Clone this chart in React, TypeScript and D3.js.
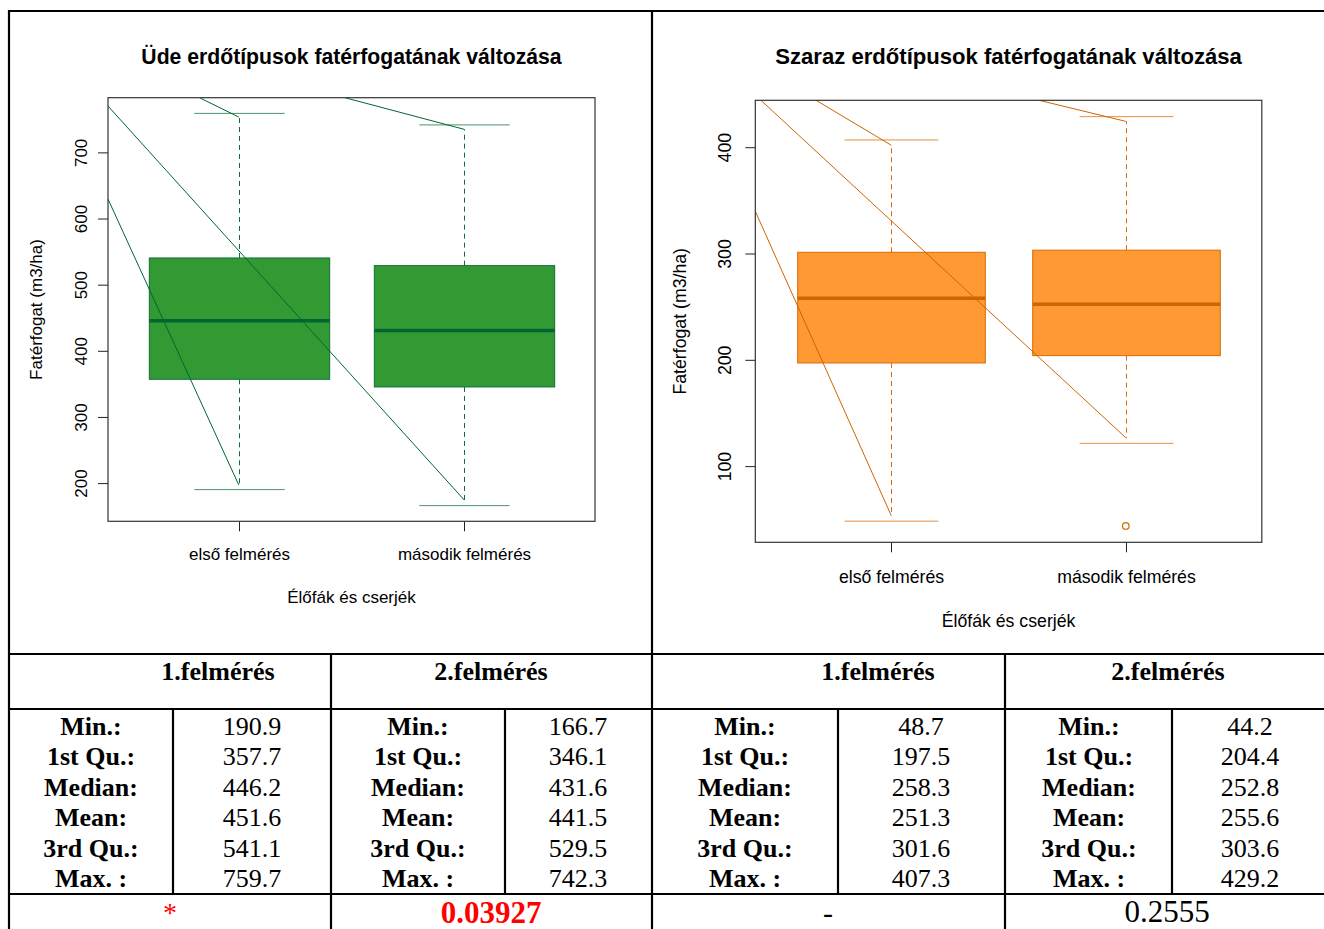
import React from 'react';
import * as d3 from 'd3';

// ---------- data ----------
const categories = ['első felmérés', 'második felmérés'];

// Üde (left)
const udeQ1 = [357.7, 346.1];
const udeMedian = [446.2, 431.6];
const udeQ3 = [541.1, 529.5];
const udeWhiskerLo = [190.9, 166.7];
const udeWhiskerHi = [759.7, 742.3];
const udeDashLo = [197.9, 175.2];
const udeDashHi = [754.2, 735.6];
const udeOutliers: number[][] = [];
const udeTicks = [200, 300, 400, 500, 600, 700];
const udeStray = [
  [0.42, 770.8, 2, 175.2],
  [0.42, 630.2, 1, 197.9],
  [0.826, 783.4, 1, 754.2],
  [1.471, 783.4, 2, 735.6],
];

// Szaraz (right)
const szQ1 = [197.5, 204.4];
const szMedian = [258.3, 252.8];
const szQ3 = [301.6, 303.6];
const szWhiskerLo = [48.7, 121.9];
const szWhiskerHi = [407.3, 429.2];
const szDashLo = [53.8, 127.2];
const szDashHi = [402.3, 424.8];
const szOutliers = [[2, 44.2]];
const szTicks = [100, 200, 300, 400];
const szStray = [
  [0.444, 444.6, 2, 127.2],
  [0.42, 340.2, 1, 53.8],
  [0.679, 444.6, 1, 402.3],
  [1.63, 444.6, 2, 424.8],
];

// table
const rowLabels = ['Min.:', '1st Qu.:', 'Median:', 'Mean:', '3rd Qu.:', 'Max. :'];
const udeStats1 = ['190.9', '357.7', '446.2', '451.6', '541.1', '759.7'];
const udeStats2 = ['166.7', '346.1', '431.6', '441.5', '529.5', '742.3'];
const szStats1 = ['48.7', '197.5', '258.3', '251.3', '301.6', '407.3'];
const szStats2 = ['44.2', '204.4', '252.8', '255.6', '303.6', '429.2'];
const headers = ['1.felmérés', '2.felmérés'];
const pValues = ['*', '0.03927', '-', '0.2555'];

const SANS = '"Liberation Sans", Arial, sans-serif';
const SERIF = '"Liberation Serif", "Times New Roman", serif';

type PanelProps = {
  id: string;
  title: string;
  q1: number[]; med: number[]; q3: number[];
  wlo: number[]; whi: number[]; dlo: number[]; dhi: number[];
  outliers: number[][];
  ticks: number[];
  stray: number[][];
  left: number; right: number; top: number; bottom: number;
  fs: number; tfs: number;
  titleY: number; tickLabelX: number; yTitleX: number; xLabY: number; xTitleY: number;
  fill: string; line: string; medCol: string;
};

function Panel(p: PanelProps) {
  const all = [...p.wlo, ...p.whi, ...p.outliers.map(o => o[1])];
  const mn = d3.min(all) as number;
  const mx = d3.max(all) as number;
  const r = mx - mn;
  const y = d3.scaleLinear().domain([mn - 0.04 * r, mx + 0.04 * r]).range([p.bottom, p.top]);
  const x = d3.scaleLinear().domain([0.42, 2.58]).range([p.left, p.right]);
  const bw = x(1.4) - x(1);
  const cw = x(1.2) - x(1);
  const cx = (p.left + p.right) / 2;
  const cy = (p.top + p.bottom) / 2;
  return (
    <g>
      <defs>
        <clipPath id={p.id}>
          <rect x={p.left} y={p.top} width={p.right - p.left} height={p.bottom - p.top} />
        </clipPath>
      </defs>
      <text x={cx} y={p.titleY} textAnchor="middle" fontFamily={SANS} fontWeight="bold" fontSize={p.tfs}>{p.title}</text>
      {categories.map((c, i) => {
        const xc = Math.round(x(i + 1)) + 0.5;
        return (
          <g key={c}>
            <line x1={xc} x2={xc} y1={y(p.q3[i])} y2={y(p.dhi[i])} stroke={p.line} strokeDasharray="5,4" />
            <line x1={xc} x2={xc} y1={y(p.q1[i])} y2={y(p.dlo[i])} stroke={p.line} strokeDasharray="5,4" />
            <line x1={xc - cw} x2={xc + cw} y1={y(p.whi[i])} y2={y(p.whi[i])} stroke={p.line} strokeOpacity={0.75} />
            <line x1={xc - cw} x2={xc + cw} y1={y(p.wlo[i])} y2={y(p.wlo[i])} stroke={p.line} strokeOpacity={0.75} />
            <rect x={xc - bw} width={2 * bw} y={y(p.q3[i])} height={y(p.q1[i]) - y(p.q3[i])} fill={p.fill} stroke={p.line} strokeWidth={1} />
            <line x1={xc - bw} x2={xc + bw} y1={y(p.med[i])} y2={y(p.med[i])} stroke={p.medCol} strokeWidth={3.5} />
            <line x1={xc} x2={xc} y1={p.bottom} y2={p.bottom + 10} stroke="#222" />
            <text x={xc} y={p.xLabY} textAnchor="middle" fontFamily={SANS} fontSize={p.fs}>{c}</text>
          </g>
        );
      })}
      {p.outliers.map((o, i) => (
        <circle key={i} cx={x(o[0])} cy={y(o[1])} r={3.3} fill="none" stroke={p.line} strokeWidth={1.2} />
      ))}
      <g clipPath={`url(#${p.id})`}>
        {p.stray.map((s, i) => (
          <line key={i} x1={x(s[0])} y1={y(s[1])} x2={x(s[2])} y2={y(s[3])} stroke={p.medCol} strokeWidth={1} />
        ))}
      </g>
      <rect x={p.left} y={p.top} width={p.right - p.left} height={p.bottom - p.top} fill="none" stroke="#333" strokeWidth={1.2} />
      {p.ticks.map(t => (
        <g key={t}>
          <line x1={p.left - 10} x2={p.left} y1={y(t)} y2={y(t)} stroke="#222" />
          <text transform={`translate(${p.tickLabelX},${y(t)}) rotate(-90)`} textAnchor="middle" fontFamily={SANS} fontSize={p.fs}>{t}</text>
        </g>
      ))}
      <text transform={`translate(${p.yTitleX},${cy}) rotate(-90)`} textAnchor="middle" fontFamily={SANS} fontSize={p.fs}>Fatérfogat (m3/ha)</text>
      <text x={cx} y={p.xTitleY} textAnchor="middle" fontFamily={SANS} fontSize={p.fs}>Élőfák és cserjék</text>
    </g>
  );
}

function StatsBlock({ labelX, valueX, values }: { labelX: number; valueX: number; values: string[] }) {
  return (
    <g fontFamily={SERIF} fontSize={26}>
      {rowLabels.map((l, i) => (
        <g key={l}>
          <text x={labelX} y={735 + i * 30.4} textAnchor="middle" fontWeight="bold">{l}</text>
          <text x={valueX} y={735 + i * 30.4} textAnchor="middle">{values[i]}</text>
        </g>
      ))}
    </g>
  );
}

export default function App() {
  const W = 1324, H = 929;
  const hLines = [
    [8, 11, W], [8, 654, W], [8, 709, W], [8, 894, W],
  ];
  const vLines = [
    [9, 10, H], [652, 10, H], [331, 654, H], [1005, 654, H],
    [173, 709, 894], [505, 709, 894], [838, 709, 894], [1172, 709, 894],
  ];
  return (
    <svg width={W} height={H} style={{ position: 'absolute', left: 0, top: 0, background: '#fff' }}>
      <rect x={0} y={0} width={W} height={H} fill="#fff" />
      <Panel
        id="clipL" title="Üde erdőtípusok fatérfogatának változása"
        q1={udeQ1} med={udeMedian} q3={udeQ3} wlo={udeWhiskerLo} whi={udeWhiskerHi}
        dlo={udeDashLo} dhi={udeDashHi} outliers={udeOutliers} ticks={udeTicks} stray={udeStray}
        left={108} right={595} top={97.7} bottom={521.3} fs={17} tfs={21.2}
        titleY={64} tickLabelX={86.5} yTitleX={42} xLabY={560} xTitleY={603}
        fill="#339933" line="#0f6e3a" medCol="#006633"
      />
      <Panel
        id="clipR" title="Szaraz erdőtípusok fatérfogatának változása"
        q1={szQ1} med={szMedian} q3={szQ3} wlo={szWhiskerLo} whi={szWhiskerHi}
        dlo={szDashLo} dhi={szDashHi} outliers={szOutliers} ticks={szTicks} stray={szStray}
        left={755.3} right={1261.8} top={100.3} bottom={542.3} fs={17.7} tfs={22.1}
        titleY={64} tickLabelX={731} yTitleX={686} xLabY={583} xTitleY={627}
        fill="#FF9933" line="#D96A00" medCol="#CC6600"
      />
      {/* table headers */}
      <g fontFamily={SERIF} fontSize={26} fontWeight="bold">
        <text x={218} y={680} textAnchor="middle">{headers[0]}</text>
        <text x={491} y={680} textAnchor="middle">{headers[1]}</text>
        <text x={878} y={680} textAnchor="middle">{headers[0]}</text>
        <text x={1168} y={680} textAnchor="middle">{headers[1]}</text>
      </g>
      <StatsBlock labelX={91} valueX={252} values={udeStats1} />
      <StatsBlock labelX={418} valueX={578} values={udeStats2} />
      <StatsBlock labelX={745} valueX={921} values={szStats1} />
      <StatsBlock labelX={1089} valueX={1250} values={szStats2} />
      <g fontFamily={SERIF}>
        <text x={170} y={922} textAnchor="middle" fontSize={28} fill="#FF0000">{pValues[0]}</text>
        <text x={491} y={923} textAnchor="middle" fontSize={31} fontWeight="bold" fill="#FF0000">{pValues[1]}</text>
        <text x={828} y={923} textAnchor="middle" fontSize={30}>{pValues[2]}</text>
        <text x={1167} y={922} textAnchor="middle" fontSize={31}>{pValues[3]}</text>
      </g>
      {hLines.map((l, i) => (
        <line key={'h' + i} x1={l[0]} x2={l[2]} y1={l[1]} y2={l[1]} stroke="#000" strokeWidth={2.2} />
      ))}
      {vLines.map((l, i) => (
        <line key={'v' + i} x1={l[0]} x2={l[0]} y1={l[1]} y2={l[2]} stroke="#000" strokeWidth={2.2} />
      ))}
    </svg>
  );
}
